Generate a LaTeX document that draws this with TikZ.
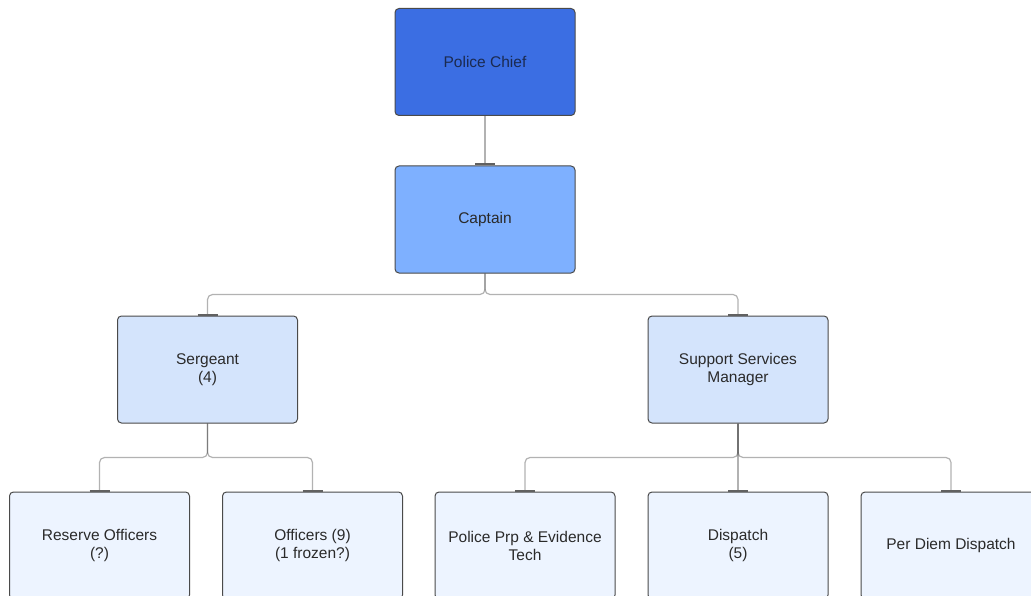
\documentclass[tikz,border=0pt]{standalone}
\usepackage{fontspec}
\setmainfont{Liberation Sans}
\definecolor{chieffill}{HTML}{3B6EE3}
\definecolor{captfill}{HTML}{7EB0FF}
\definecolor{midfill}{HTML}{D4E4FC}
\definecolor{lowfill}{HTML}{EDF4FF}
\definecolor{boxline}{HTML}{4A4A4A}
\definecolor{txt}{HTML}{2A2A2A}
\definecolor{chieftxt}{HTML}{1B2A50}
\tikzset{
  role/.style={draw=boxline, line width=1pt, rounded corners=4pt,
    minimum width=180pt, minimum height=107pt, inner sep=0pt,
    align=center, text=txt,
    font=\fontsize{15.5}{18}\selectfont},
  link/.style={draw=black, draw opacity=0.3, line width=1.2pt, rounded corners=5pt},
  tick/.style={draw=black!62, line width=2pt},
}
\newcommand{\tickat}[1]{\draw[tick] ([xshift=-10pt,yshift=1pt]#1.north) -- ([xshift=10pt,yshift=1pt]#1.north);}
\begin{document}
\begin{tikzpicture}[x=1pt, y=-1pt]
\useasboundingbox (0,0) rectangle (1031,596);
\clip (0,0) rectangle (1031,596);
\fill[white] (0,0) rectangle (1031,596);

% boxes
\node[role, fill=chieffill, text=chieftxt] (chief) at (485,62) {Police Chief};
\node[role, fill=captfill] (capt) at (485,219.5) {Captain};
\node[role, fill=midfill] (serg) at (207.5,369.5) {Sergeant\\(4)};
\node[role, fill=midfill] (ssm) at (738,369.5) {Support Services\\Manager};
\node[role, fill=lowfill] (res) at (99.5,545.5) {Reserve Officers\\(?)};
\node[role, fill=lowfill] (off) at (312.5,545.5) {Officers (9)\\(1 frozen?)};
\node[role, fill=lowfill] (evid) at (525,545.5) {Police Prp \& Evidence\\Tech};
\node[role, fill=lowfill] (disp) at (738,545.5) {Dispatch\\(5)};
\node[role, fill=lowfill] (perdiem) at (951,545.5) {Per Diem Dispatch};

% connectors
\draw[link] (chief.south) -- (capt.north);
\draw[link] (capt.south) |- (207.5,294.5) -- (serg.north);
\draw[link] (capt.south) |- (738,294.5) -- (ssm.north);
\draw[link] (serg.south) |- (99.5,457.5) -- (res.north);
\draw[link] (serg.south) |- (312.5,457.5) -- (off.north);
\draw[link] (ssm.south) |- (525,457.5) -- (evid.north);
\draw[link] (ssm.south) -- (disp.north);
\draw[link] (ssm.south) |- (951,457.5) -- (perdiem.north);

% end bars where each link meets its box
\tickat{capt}
\tickat{serg}
\tickat{ssm}
\tickat{res}
\tickat{off}
\tickat{evid}
\tickat{disp}
\tickat{perdiem}
\end{tikzpicture}
\end{document}
